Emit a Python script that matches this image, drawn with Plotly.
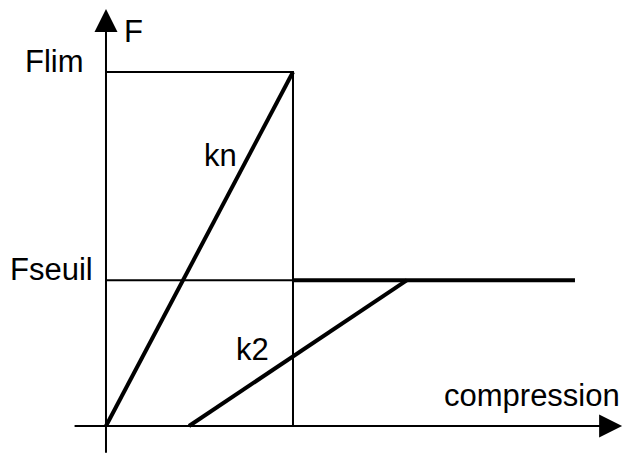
import plotly.graph_objects as go

# Data (schematic units: compression, force)
comp_lim = 5.0        # compression reached at Flim
f_lim = 10.0          # Flim
f_seuil = 4.12        # Fseuil
k2_start = 2.22       # residual compression where the k2 branch starts
k2_end = 8.05         # compression where k2 reaches Fseuil
plateau_end = 12.54   # end of the Fseuil plateau

kn_x = [0, comp_lim]
kn_y = [0, f_lim]
k2_x = [k2_start, k2_end]
k2_y = [0, f_seuil]
plateau_x = [comp_lim, plateau_end]
plateau_y = [f_seuil, f_seuil]

black = '#000000'
font = dict(family='Liberation Sans, Arial, sans-serif', size=31, color=black)

fig = go.Figure()

# thin guide lines
fig.add_trace(go.Scatter(x=[0, comp_lim, comp_lim], y=[f_lim, f_lim, 0],
                         mode='lines', line=dict(color=black, width=2)))
fig.add_trace(go.Scatter(x=[0, comp_lim], y=[f_seuil, f_seuil],
                         mode='lines', line=dict(color=black, width=2)))

# thick behaviour lines
for xs, ys in [(kn_x, kn_y), (k2_x, k2_y), (plateau_x, plateau_y)]:
    fig.add_trace(go.Scatter(x=xs, y=ys, mode='lines',
                             line=dict(color=black, width=4)))

# axes with arrows
fig.add_annotation(x=13.8, y=0, ax=-0.88, ay=0, xref='x', yref='y',
                   axref='x', ayref='y', text='', showarrow=True,
                   arrowhead=2, arrowsize=2.3, arrowwidth=2, arrowcolor=black,
                   standoff=0)
fig.add_annotation(x=0, y=11.78, ax=0, ay=-0.8, xref='x', yref='y',
                   axref='x', ayref='y', text='', showarrow=True,
                   arrowhead=2, arrowsize=2.3, arrowwidth=2, arrowcolor=black,
                   standoff=0)

# labels
labels = [
    ('F', 0.455, 11.14, 'left'),
    ('Flim', -0.56, 10.30, 'right'),
    ('Fseuil', -0.32, 4.43, 'right'),
    ('kn', 2.59, 7.63, 'left'),
    ('k2', 3.45, 2.16, 'left'),
    ('compression', 13.76, 0.85, 'right'),
]
for txt, x, y, anchor in labels:
    fig.add_annotation(x=x, y=y, xref='x', yref='y', text=txt,
                       showarrow=False, xanchor=anchor, yanchor='middle',
                       font=font, borderpad=0)

fig.update_layout(
    width=623, height=453,
    margin=dict(l=0, r=0, t=0, b=0),
    paper_bgcolor='white', plot_bgcolor='white',
    showlegend=False,
    xaxis=dict(range=[-2.834, 13.824], visible=False, fixedrange=True),
    yaxis=dict(range=[-0.763, 12.034], visible=False, fixedrange=True),
)

fig.write_html("out.html", config=dict(displayModeBar=False),
               post_script="document.body.style.margin='0';")
